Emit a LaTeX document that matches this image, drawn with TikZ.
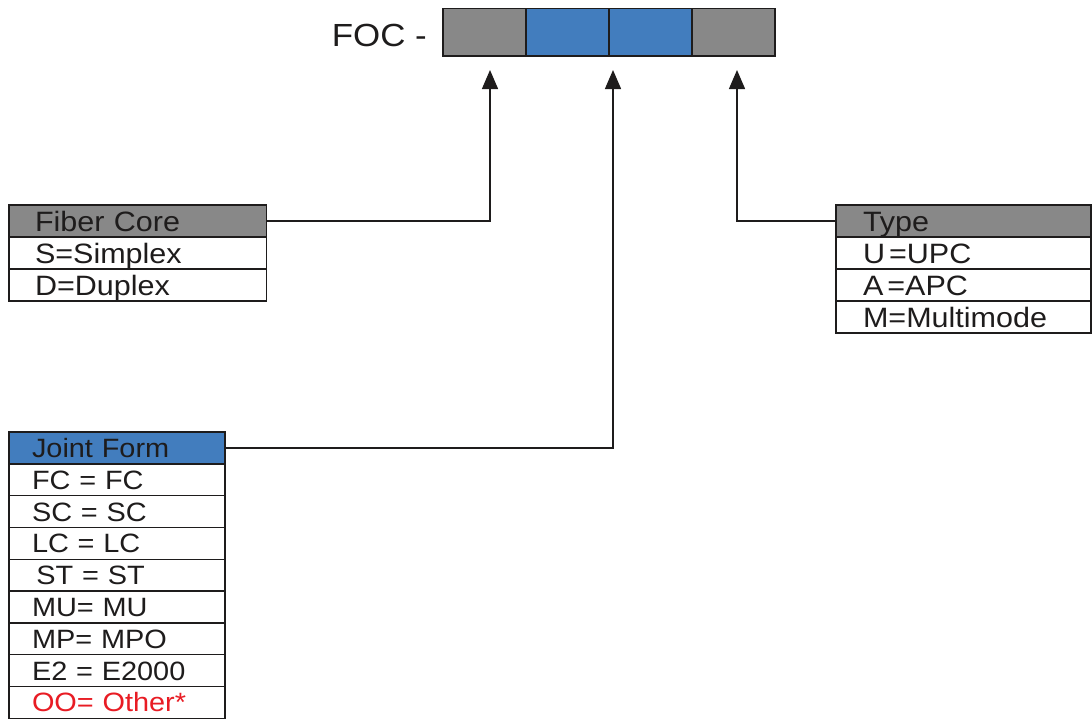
\documentclass[tikz,border=0pt]{standalone}
\usepackage{fontspec}
\setmainfont{Liberation Sans}[FakeStretch=1.09]
\usetikzlibrary{arrows.meta}
\definecolor{hgray}{RGB}{136,136,136}
\definecolor{hblue}{RGB}{66,125,190}
\definecolor{ink}{RGB}{30,28,28}
\definecolor{ored}{RGB}{232,28,36}
\tikzset{
  row/.style={draw=ink, line width=1.4pt, anchor=north west, inner ysep=0pt, outer sep=0pt,
    text height=20pt, text depth=0pt, align=left, text=ink,
    font=\fontsize{28}{30}\selectfont},
  fcrow/.style={row, minimum height=32pt, inner xsep=26pt, text width=205.5pt},
  tyrow/.style={row, minimum height=32pt, inner xsep=27pt, text width=201pt},
  jfrow/.style={row, minimum height=31.8pt, inner xsep=23pt, text width=170pt,
    text height=19pt, font=\fontsize{26.5}{28}\selectfont},
  cell/.style={draw=ink, line width=1.5pt, anchor=north west, minimum width=83pt,
    minimum height=47.5pt, inner sep=0pt, outer sep=0pt},
  conn/.style={draw=ink, line width=1.4pt, -{Triangle[width=16pt,length=19pt]}},
}
\begin{document}
\begin{tikzpicture}[x=1pt,y=-1pt]
\useasboundingbox (0,0) rectangle (1092,720);
% top code bar
\node[cell, fill=hgray] (c1) at (443,8.3) {};
\node[cell, fill=hblue] (c2) at (c1.north east) {};
\node[cell, fill=hblue] (c3) at (c2.north east) {};
\node[cell, fill=hgray] (c4) at (c3.north east) {};
\node[anchor=base east, inner sep=0pt, text=ink, font=\fontsize{32}{34}\selectfont] (foc) at (427,46.7) {FOC -};
% arrow tips
\coordinate (t1) at (490,70);
\coordinate (t2) at (613,70);
\coordinate (t3) at (737,70);
% Fiber Core
\node[fcrow, fill=hgray] (fch) at (9,205) {Fiber Core};
\node[fcrow] (fc1) at (fch.south west) {S=Simplex};
\node[fcrow] (fc2) at (fc1.south west) {D=Duplex};
% Type
\node[tyrow, fill=hgray] (tyh) at (836,205) {Type};
\node[tyrow] (ty1) at (tyh.south west) {U\hspace{4pt}=UPC};
\node[tyrow] (ty2) at (ty1.south west) {A\hspace{4pt}=APC};
\node[tyrow] (ty3) at (ty2.south west) {M=Multimode};
% Joint Form
\node[jfrow, fill=hblue] (jfh) at (9,432) {Joint Form};
\node[jfrow] (jf1) at (jfh.south west) {FC = FC};
\node[jfrow] (jf2) at (jf1.south west) {SC = SC};
\node[jfrow] (jf3) at (jf2.south west) {LC = LC};
\node[jfrow] (jf4) at (jf3.south west) {\,ST = ST};
\node[jfrow] (jf5) at (jf4.south west) {MU= MU};
\node[jfrow] (jf6) at (jf5.south west) {MP= MPO};
\node[jfrow] (jf7) at (jf6.south west) {E2 = E2000};
\node[jfrow, text=ored] (jf8) at (jf7.south west) {OO= Other*};
% connectors
\draw[conn] (fch.east) -| (t1);
\draw[conn] (jfh.east) -| (t2);
\draw[conn] (tyh.west) -| (t3);
\end{tikzpicture}
\end{document}
